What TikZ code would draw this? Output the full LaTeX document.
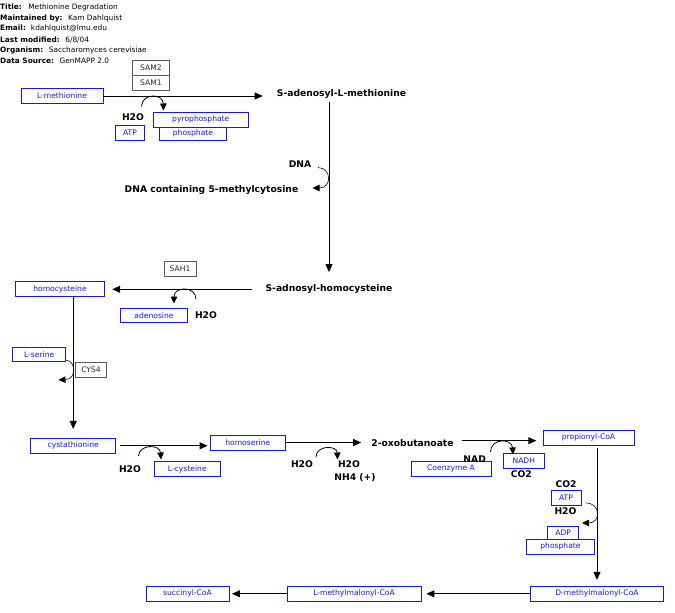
\documentclass[tikz,border=0pt]{standalone}
\usepackage{fontspec}
\setmainfont{DejaVu Sans}
\usetikzlibrary{arrows.meta}
\definecolor{gblue}{RGB}{20,20,255}
\definecolor{ggray}{RGB}{90,90,90}
\definecolor{gtext}{RGB}{40,40,40}
\begin{document}
\begin{tikzpicture}[x=1pt,y=-1pt,
  bbox/.style={draw=gblue, text=gblue, font=\fontsize{7.6}{9}\selectfont, inner sep=0pt, line width=0.8pt},
  gbox/.style={draw=ggray, text=gtext, font=\fontsize{7.6}{9}\selectfont, inner sep=0pt, line width=0.8pt},
  metab/.style={font=\bfseries\fontsize{9.2}{11}\selectfont, inner sep=1pt},
  hdr/.style={anchor=west, inner sep=0pt, font=\fontsize{7.4}{8}\selectfont},
  arr/.style={-{Triangle[length=8pt,width=7pt]}, line width=0.9pt},
  carr/.style={-{Triangle[length=7pt,width=6.5pt]}, line width=0.8pt},
  ]
\useasboundingbox (0,0) rectangle (675,613);

% header
\node[hdr] (h1) at (0,7.5) {\textbf{Title:}\hspace{6.5pt}Methionine Degradation};
\node[hdr] (h2) at (0,18.2) {\textbf{Maintained by:}\hspace{5.5pt}Kam Dahlquist};
\node[hdr] (h3) at (0,28.9) {\textbf{Email:}\hspace{5pt}kdahlquist@lmu.edu};
\node[hdr] (h4) at (0,39.6) {\textbf{Last modified:}\hspace{5.5pt}6/8/04};
\node[hdr] (h5) at (0,50.3) {\textbf{Organism:}\hspace{5.5pt}Saccharomyces cerevisiae};
\node[hdr] (h6) at (0,61) {\textbf{Data Source:}\hspace{5.5pt}GenMAPP 2.0};

% genes
\node[gbox, minimum width=37pt, minimum height=15.7pt] (sam2) at (151,67.8) {SAM2};
\node[gbox, minimum width=37pt, minimum height=15pt] (sam1) at (151,83.2) {SAM1};
\node[gbox, minimum width=32pt, minimum height=15pt] (sah1) at (180,268.5) {SAH1};
\node[gbox, minimum width=31.7pt, minimum height=15.3pt] (cys4) at (91,370) {CYS4};

% blue boxes
\node[bbox, minimum width=82pt, minimum height=15pt] (lmet) at (62,96) {L-methionine};
\node[bbox, minimum width=29pt, minimum height=15pt] (atp1) at (130,132.6) {ATP};
\node[bbox, minimum width=67.5pt, minimum height=13.3pt] (phos1) at (193,133.6) {phosphate};
\node[bbox, minimum width=95pt, minimum height=14.7pt, fill=white] (pyro) at (200.8,119.6) {pyrophosphate};
\node[bbox, minimum width=88.6pt, minimum height=15pt] (hcy) at (60,289.2) {homocysteine};
\node[bbox, minimum width=66.6pt, minimum height=14.3pt] (aden) at (154,315.2) {adenosine};
\node[bbox, minimum width=53pt, minimum height=14.7pt] (lser) at (39.2,354.3) {L-serine};
\node[bbox, minimum width=85pt, minimum height=15pt] (cysta) at (73.2,445.8) {cystathionine};
\node[bbox, minimum width=75.7pt, minimum height=15pt] (hser) at (247.8,442.5) {homoserine};
\node[bbox, minimum width=66.7pt, minimum height=15pt] (lcys) at (187.3,469.2) {L-cysteine};
\node[bbox, minimum width=91pt, minimum height=15pt] (prop) at (588.5,437.5) {propionyl-CoA};
\node[bbox, minimum width=80pt, minimum height=15.5pt] (coa) at (451,468.9) {Coenzyme A};
\node[bbox, minimum width=41pt, minimum height=15pt] (nadh) at (523.8,460.8) {NADH};
\node[bbox, minimum width=30pt, minimum height=15pt] (atp2) at (566,497.5) {ATP};
\node[bbox, minimum width=67.6pt, minimum height=15.3pt] (phos2) at (560.5,546.7) {phosphate};
\node[bbox, minimum width=31pt, minimum height=12.3pt] (adp) at (563.2,532.9) {ADP};
\node[bbox, minimum width=132.6pt, minimum height=15pt] (dmm) at (597,593.8) {D-methylmalonyl-CoA};
\node[bbox, minimum width=134pt, minimum height=15pt] (lmm) at (354,593.8) {L-methylmalonyl-CoA};
\node[bbox, minimum width=83pt, minimum height=15pt] (succ) at (187.5,593.8) {succinyl-CoA};

% bold labels
\node[metab] (sam) at (341.5,94) {S-adenosyl-L-methionine};
\node[metab] (h2oa) at (133,117.6) {H2O};
\node[metab] (dna) at (300,164) {DNA};
\node[metab] (dnac) at (211.5,190) {DNA containing 5-methylcytosine};
\node[metab] (sah) at (329,289.3) {S-adnosyl-homocysteine};
\node[metab] (h2ob) at (206,315.3) {H2O};
\node[metab] (h2oc) at (130,469) {H2O};
\node[metab] (h2od) at (302,464) {H2O};
\node[metab] (h2oe) at (349,464) {H2O};
\node[metab] (nh4) at (355,477.7) {NH4 (+)};
\node[metab] (oxo) at (412.5,443.3) {2-oxobutanoate};
\node[metab] (nad) at (474.7,459) {NAD};
\node[metab] (co2a) at (521.3,474.5) {CO2};
\node[metab] (co2b) at (566,484.5) {CO2};
\node[metab] (h2of) at (565.5,510.7) {H2O};

% main connectors
\draw[arr, shorten >=13pt] (lmet.east) -- (lmet.east -| sam.west);
\draw[arr, shorten <=2pt, shorten >=11.5pt] (sam.south -| sah.north) -- (sah.north);
\draw[arr, shorten <=12pt, shorten >=7.5pt] (sah.west) -- (sah.west -| hcy.east);
\draw[arr, shorten >=9pt] (hcy.south -| cysta.north) -- (cysta.north);
\draw[arr, shorten <=3.5pt, shorten >=2pt] (cysta.east) -- (cysta.east -| hser.west);
\draw[arr, shorten >=9pt] (hser.east) -- (hser.east -| oxo.west);
\draw[arr, shorten <=6.7pt, shorten >=6.3pt] ([yshift=2.6pt]oxo.east) -- ([yshift=2.6pt]oxo.east -| prop.west);
\draw[arr, shorten <=3pt, shorten >=6pt] (prop.south -| dmm.north) -- (dmm.north);
\draw[arr, shorten >=5pt] (dmm.west) -- (lmm.east);
\draw[arr, shorten >=2.5pt] (lmm.west) -- (succ.east);

% side reaction curves
\coordinate (c1s) at (141.5,106.5); \coordinate (c1e) at (163.5,110.5);
\draw[carr] (c1s) .. controls (142,93) and (163,93) .. (c1e);
\coordinate (c2s) at (318,167.5); \coordinate (c2e) at (312.5,188);
\draw[carr, line width=0.6pt] (c2s) .. controls (332,168) and (332,188) .. (c2e);
\coordinate (c3s) at (196,299); \coordinate (c3e) at (174,303.5);
\draw[carr] (c3s) .. controls (196,286) and (174,286) .. (c3e);
\coordinate (c4s) at (66,360); \coordinate (c4e) at (58.5,380);
\draw[carr, line width=0.6pt] (c4s) .. controls (76,361) and (77,379) .. (c4e);
\coordinate (c5s) at (138.5,456); \coordinate (c5e) at (161,459.5);
\draw[carr] (c5s) .. controls (139,444) and (160,444) .. (c5e);
\coordinate (c6s) at (316,457); \coordinate (c6e) at (337.5,459.5);
\draw[carr] (c6s) .. controls (316,445) and (337,445) .. (c6e);
\coordinate (c7s) at (490.5,452); \coordinate (c7e) at (513,454.5);
\draw[carr] (c7s) .. controls (490.5,438) and (512,438) .. (c7e);
\coordinate (c8s) at (586,503); \coordinate (c8e) at (582,523);
\draw[carr, line width=0.6pt] (c8s) .. controls (601,503) and (601,523) .. (c8e);
\end{tikzpicture}
\end{document}
